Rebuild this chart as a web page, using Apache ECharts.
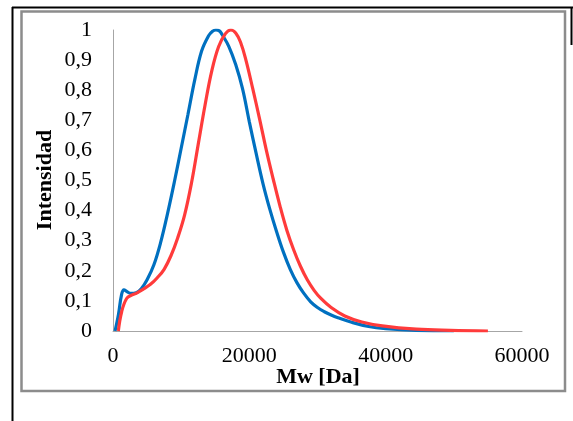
<!DOCTYPE html>
<html>
<head>
<meta charset="utf-8">
<script src="https://cdn.jsdelivr.net/npm/echarts@6/dist/echarts.min.js"></script>
<style>
html,body{margin:0;padding:0;background:#fff;}
#chart{width:573px;height:421px;}
</style>
</head>
<body>
<div id="chart"></div>
<script>
// Molecular weight (Da) and normalized intensity
var blueMw = [300, 800, 1250, 1600, 2100, 2600, 3400, 4200, 5000, 6000, 7000, 8000, 9000, 10000, 11000, 12000, 13000, 14000, 14600, 15100, 15600, 16000, 17000, 18000, 19000, 20000, 21000, 22000, 23000, 24000, 25000, 26000, 27000, 28000, 29000, 30000, 31000, 32000, 33000, 35000, 37500, 40000, 44500, 50000];
var blueVal = [0, 0.055, 0.12, 0.137, 0.13, 0.125, 0.127, 0.142, 0.17, 0.22, 0.295, 0.39, 0.495, 0.607, 0.72, 0.835, 0.93, 0.98, 0.996, 1, 0.997, 0.985, 0.945, 0.885, 0.805, 0.695, 0.59, 0.49, 0.405, 0.33, 0.262, 0.205, 0.16, 0.125, 0.097, 0.078, 0.064, 0.053, 0.044, 0.029, 0.015, 0.008, 0.002, 0];
var redMw = [780, 1270, 2000, 2800, 3470, 4500, 5500, 6500, 7500, 8500, 9500, 10500, 11500, 12500, 13500, 14500, 15500, 16500, 17300, 18000, 18700, 19500, 20500, 21500, 22500, 23500, 24500, 25500, 26500, 27500, 28500, 29500, 30500, 32000, 34000, 36500, 39500, 44500, 49500, 55000];
var redVal = [0, 0.064, 0.108, 0.12, 0.126, 0.14, 0.155, 0.177, 0.205, 0.25, 0.31, 0.385, 0.49, 0.62, 0.75, 0.865, 0.945, 0.988, 1, 0.99, 0.96, 0.9, 0.805, 0.705, 0.6, 0.505, 0.415, 0.335, 0.27, 0.215, 0.17, 0.135, 0.108, 0.078, 0.05, 0.03, 0.017, 0.006, 0.002, 0];
var xTicks = [0, 20000, 40000, 60000];
var yTicks = [0, 0.1, 0.2, 0.3, 0.4, 0.5, 0.6, 0.7, 0.8, 0.9, 1];
var xTitle = 'Mw [Da]';
var yTitle = 'Intensidad';

function pairs(xs, ys) { return xs.map(function (x, i) { return [x, ys[i]]; }); }

var FONT = '"Liberation Serif", "Times New Roman", serif';
var chart = echarts.init(document.getElementById('chart'), null, {renderer: 'canvas'});
chart.setOption({
  backgroundColor: '#ffffff',
  animation: false,
  grid: {left: 113, right: 51, top: 30, bottom: 90, containLabel: false},
  xAxis: {
    type: 'value', min: xTicks[0], max: xTicks[xTicks.length - 1], interval: 20000,
    axisLine: {show: true, lineStyle: {color: '#a6a6a6', width: 1}},
    axisTick: {show: false},
    splitLine: {show: false},
    axisLabel: {color: '#000', fontFamily: FONT, fontSize: 22, margin: 14,
      formatter: function (v) { return String(v); }}
  },
  yAxis: {
    type: 'value', min: yTicks[0], max: yTicks[yTicks.length - 1], interval: 0.1,
    axisLine: {show: true, lineStyle: {color: '#a6a6a6', width: 1}},
    axisTick: {show: false},
    splitLine: {show: false},
    axisLabel: {
      color: '#000', fontFamily: FONT, fontSize: 22, margin: 21,
      formatter: function (v) { return (Math.round(v * 10) / 10).toString().replace('.', ','); }
    }
  },
  series: [
    {type: 'line', data: pairs(blueMw, blueVal), smooth: 0.4, showSymbol: false,
     lineStyle: {color: '#0070C0', width: 3.2}, z: 2},
    {type: 'line', data: pairs(redMw, redVal), smooth: 0.4, showSymbol: false,
     lineStyle: {color: '#FF3B3B', width: 3.2}, z: 3}
  ],
  graphic: [
    {type: 'line', shape: {x1: 12, y1: 7.5, x2: 573, y2: 7.5}, style: {stroke: '#000', lineWidth: 2}},
    {type: 'line', shape: {x1: 12.5, y1: 7, x2: 12.5, y2: 421}, style: {stroke: '#000', lineWidth: 2}},
    {type: 'line', shape: {x1: 571.5, y1: 7, x2: 571.5, y2: 45}, style: {stroke: '#000', lineWidth: 2}},
    {type: 'rect', shape: {x: 21.5, y: 11.5, width: 543.5, height: 379.5}, style: {fill: null, stroke: '#8c8c8c', lineWidth: 2.5}},
    {type: 'text', x: 318, y: 377, style: {text: xTitle, font: 'bold 22px ' + FONT, fill: '#000', textAlign: 'center', textVerticalAlign: 'middle'}},
    {type: 'text', x: 45, y: 180, rotation: Math.PI / 2, style: {text: yTitle, font: 'bold 22px ' + FONT, fill: '#000', textAlign: 'center', textVerticalAlign: 'middle'}}
  ]
});
</script>
</body>
</html>
